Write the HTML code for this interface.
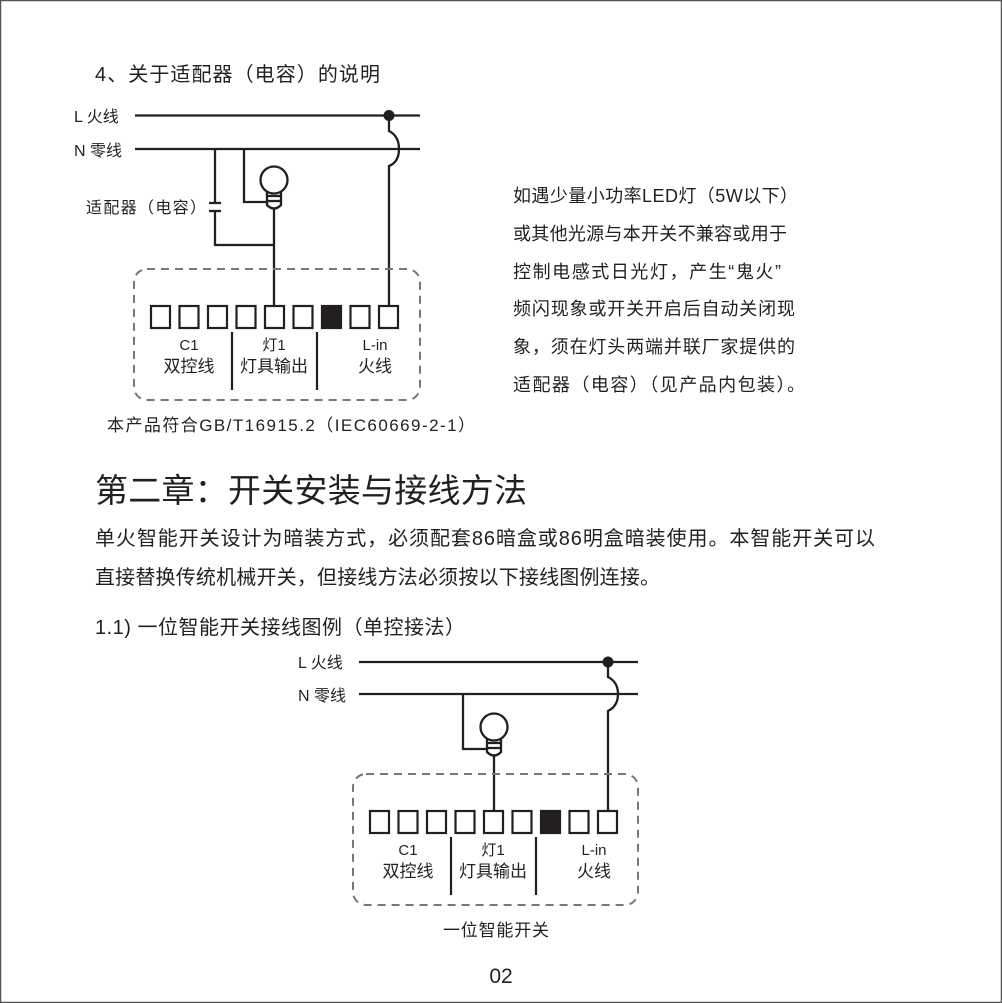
<!DOCTYPE html>
<html><head><meta charset="utf-8"><style>
html,body{margin:0;padding:0;background:#fff}
svg{display:block}
text{font-family:"Liberation Sans","Noto Sans CJK SC",sans-serif;fill:#231f20}
</style></head><body>
<svg width="1002" height="1003" viewBox="0 0 1002 1003" xmlns="http://www.w3.org/2000/svg">
<rect x="0.5" y="0.5" width="1001" height="1002" fill="#fff" stroke="#555" stroke-width="1.5"/>

<text x="95" y="81" font-size="20" textLength="285">4、关于适配器（电容）的说明</text>

<!-- Diagram 1 -->
<g stroke="#231f20" stroke-width="2.3" fill="none">
<line x1="135" y1="115.5" x2="420" y2="115.5"/>
<line x1="135" y1="149" x2="420" y2="149"/>
<path d="M215 149 V202 M215 212 V245 H274"/>
<line x1="209" y1="203" x2="221" y2="203"/>
<line x1="209" y1="211" x2="221" y2="211"/>
<path d="M244 149 V202 H266"/>
<circle cx="274" cy="180" r="13.5"/>
<path d="M267 191 V205 Q274 212 281 205 V191"/>
<line x1="267" y1="196" x2="281" y2="196"/>
<line x1="267" y1="201" x2="281" y2="201"/>
<line x1="274" y1="209" x2="274" y2="306"/>
<path d="M389 115 V131 Q399 136 399 149 Q399 162 389 166 V306"/>
</g>
<circle cx="389" cy="115.5" r="5.5" fill="#231f20"/>
<text x="74" y="122" font-size="16">L 火线</text>
<text x="74" y="156" font-size="16">N 零线</text>
<text x="86" y="213" font-size="16" textLength="120">适配器（电容）</text>
<rect x="134" y="269" width="286" height="131" rx="13" fill="none" stroke="#777" stroke-width="2" stroke-dasharray="8,6"/>
<g stroke="#231f20" stroke-width="2.2" fill="none">
<rect x="151" y="306" width="19" height="22"/>
<rect x="179.5" y="306" width="19" height="22"/>
<rect x="208" y="306" width="19" height="22"/>
<rect x="236.5" y="306" width="19" height="22"/>
<rect x="265" y="306" width="19" height="22"/>
<rect x="293.5" y="306" width="19" height="22"/>
<rect x="322" y="306" width="19" height="22" fill="#231f20"/>
<rect x="350.5" y="306" width="19" height="22"/>
<rect x="379" y="306" width="19" height="22"/>
<line x1="232" y1="332" x2="232" y2="390"/>
<line x1="317" y1="332" x2="317" y2="390"/>
</g>
<text x="189" y="350" font-size="15" text-anchor="middle">C1</text>
<text x="189" y="372" font-size="17" text-anchor="middle">双控线</text>
<text x="274" y="350" font-size="15" text-anchor="middle">灯1</text>
<text x="274" y="372" font-size="17" text-anchor="middle">灯具输出</text>
<text x="375" y="350" font-size="15" text-anchor="middle">L-in</text>
<text x="375" y="372" font-size="17" text-anchor="middle">火线</text>
<text x="107" y="431" font-size="17" textLength="368">本产品符合GB/T16915.2（IEC60669-2-1）</text>

<text x="513" y="202" font-size="18" textLength="285">如遇少量小功率LED灯（5W以下）</text>
<text x="513" y="240" font-size="18" textLength="274">或其他光源与本开关不兼容或用于</text>
<text x="513" y="278" font-size="18" textLength="268">控制电感式日光灯，产生“鬼火”</text>
<text x="513" y="315" font-size="18" textLength="282">频闪现象或开关开启后自动关闭现</text>
<text x="513" y="353" font-size="18" textLength="282">象，须在灯头两端并联厂家提供的</text>
<text x="513" y="391" font-size="18" textLength="292">适配器（电容）（见产品内包装）。</text>

<text x="95" y="502" font-size="33" textLength="432">第二章：开关安装与接线方法</text>
<text x="95" y="545" font-size="20" textLength="780">单火智能开关设计为暗装方式，必须配套86暗盒或86明盒暗装使用。本智能开关可以</text>
<text x="95" y="584" font-size="20" textLength="565">直接替换传统机械开关，但接线方法必须按以下接线图例连接。</text>
<text x="95" y="634" font-size="20" textLength="370">1.1) 一位智能开关接线图例（单控接法）</text>

<!-- Diagram 2 -->
<g stroke="#231f20" stroke-width="2.3" fill="none">
<line x1="359" y1="662" x2="638" y2="662"/>
<line x1="359" y1="694" x2="638" y2="694"/>
<path d="M463 694 V749 H486"/>
<circle cx="494" cy="727" r="13.5"/>
<path d="M487 738 V752 Q494 759 501 752 V738"/>
<line x1="487" y1="743" x2="501" y2="743"/>
<line x1="487" y1="748" x2="501" y2="748"/>
<line x1="494" y1="756" x2="494" y2="811"/>
<path d="M608 662 V677 Q618 682 618 694 Q618 706 608 711 V811"/>
</g>
<circle cx="608" cy="662" r="5.5" fill="#231f20"/>
<text x="298" y="668" font-size="16">L 火线</text>
<text x="298" y="701" font-size="16">N 零线</text>
<rect x="353" y="774" width="285" height="131" rx="13" fill="none" stroke="#777" stroke-width="2" stroke-dasharray="8,6"/>
<g transform="translate(219,505)">
<g stroke="#231f20" stroke-width="2.2" fill="none">
<rect x="151" y="306" width="19" height="22"/>
<rect x="179.5" y="306" width="19" height="22"/>
<rect x="208" y="306" width="19" height="22"/>
<rect x="236.5" y="306" width="19" height="22"/>
<rect x="265" y="306" width="19" height="22"/>
<rect x="293.5" y="306" width="19" height="22"/>
<rect x="322" y="306" width="19" height="22" fill="#231f20"/>
<rect x="350.5" y="306" width="19" height="22"/>
<rect x="379" y="306" width="19" height="22"/>
<line x1="232" y1="332" x2="232" y2="390"/>
<line x1="317" y1="332" x2="317" y2="390"/>
</g>
<text x="189" y="350" font-size="15" text-anchor="middle">C1</text>
<text x="189" y="372" font-size="17" text-anchor="middle">双控线</text>
<text x="274" y="350" font-size="15" text-anchor="middle">灯1</text>
<text x="274" y="372" font-size="17" text-anchor="middle">灯具输出</text>
<text x="375" y="350" font-size="15" text-anchor="middle">L-in</text>
<text x="375" y="372" font-size="17" text-anchor="middle">火线</text>
</g>
<text x="443" y="936" font-size="17" textLength="106">一位智能开关</text>
<text x="501" y="983" font-size="21" text-anchor="middle">02</text>
</svg>
</body></html>
